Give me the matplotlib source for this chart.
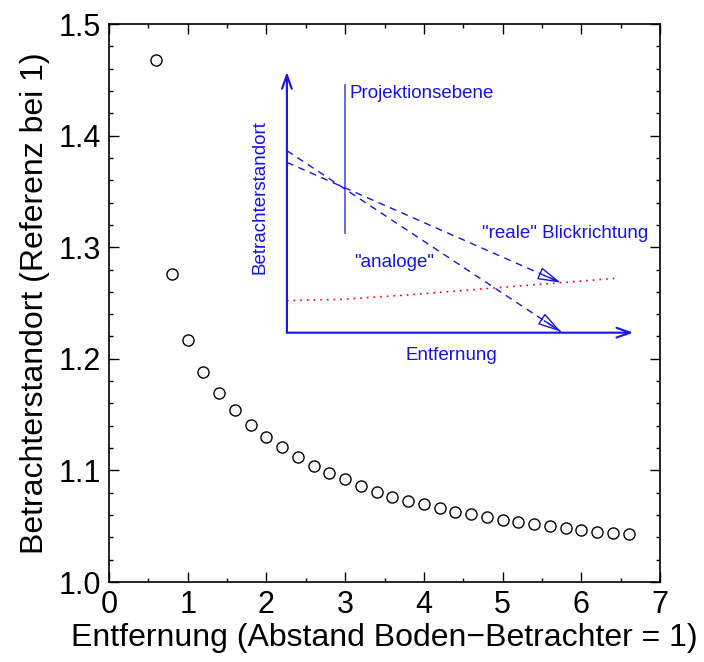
import numpy as np
import matplotlib
matplotlib.use('Agg')
import matplotlib.pyplot as plt
from matplotlib.ticker import MultipleLocator

plt.rcParams['font.family'] = ['Liberation Sans', 'DejaVu Sans']

# Messwerte: Entfernung und Betrachterstandort
entfernung = [0.6, 0.8, 1.0, 1.2, 1.4, 1.6, 1.8, 2.0, 2.2, 2.4, 2.6, 2.8, 3.0,
              3.2, 3.4, 3.6, 3.8, 4.0, 4.2, 4.4, 4.6, 4.8, 5.0, 5.2, 5.4, 5.6,
              5.8, 6.0, 6.2, 6.4, 6.6]
standort = [1.468, 1.276, 1.217, 1.188, 1.169, 1.154, 1.141, 1.130, 1.121,
            1.112, 1.104, 1.098, 1.092, 1.086, 1.081, 1.076, 1.073, 1.070,
            1.066, 1.063, 1.061, 1.058, 1.056, 1.054, 1.052, 1.050, 1.048,
            1.047, 1.045, 1.044, 1.043]

# Skizze (in Datenkoordinaten)
skizze_ursprung = (2.26, 1.2234)
skizze_y_ende = 1.457
skizze_x_ende = 6.66
ebene_x = 3.0
ebene_y = (1.3125, 1.445)
blick_analog = [(2.26, 1.3865), (5.74, 1.2243)]
blick_real = [(2.26, 1.376), (5.74, 1.2682)]
kurve_x = [2.26, 2.95, 3.79, 4.85, 5.74, 6.43]
kurve_y = [1.2521, 1.2533, 1.2572, 1.2632, 1.2682, 1.2721]

blau = '#1414e6'

fig = plt.figure(figsize=(7.04, 6.62), dpi=100)
ax = fig.add_axes([109 / 704, 1 - 582 / 662, 551 / 704, 558 / 662])

ax.plot(entfernung, standort, 'o', mfc='none', mec='black', ms=8, mew=1)

# Achsen der Skizze
for ziel in [(skizze_ursprung[0], skizze_y_ende), (skizze_x_ende, skizze_ursprung[1])]:
    ax.annotate('', xy=ziel, xytext=skizze_ursprung,
                arrowprops=dict(arrowstyle='->,head_length=0.7,head_width=0.25',
                                color=blau, lw=1.5, shrinkA=0, shrinkB=0,
                                mutation_scale=14))

# Projektionsebene
ax.plot([ebene_x, ebene_x], ebene_y, color='#5c5cf0', lw=1.3)

# Blickrichtungen: gestrichelte Linie + durchgezogene Pfeilspitze
for (x0, y0), (x1, y1) in [blick_analog, blick_real]:
    ax.plot([x0, x1], [y0, y1], color=blau, lw=1, ls=(0, (5, 4)))
    xa = x1 - 0.06 * (x1 - x0)
    ya = y1 - 0.06 * (y1 - y0)
    ax.annotate('', xy=(x1, y1), xytext=(xa, ya),
                arrowprops=dict(arrowstyle='-|>,head_length=0.8,head_width=0.22',
                                color=blau, lw=1, fill=False,
                                shrinkA=0, shrinkB=0, mutation_scale=18))

ax.plot(kurve_x, kurve_y, color='red', ls=(0, (1, 3)), lw=1.2)

fs_skizze = 13.5
ax.text(3.05, 1.438, 'Projektionsebene', color=blau, fontsize=fs_skizze,
        va='center', ha='left')
ax.text(1.92, 1.345, 'Betrachterstandort', color=blau, fontsize=fs_skizze,
        rotation=90, va='center', ha='center')
ax.text(4.74, 1.3127, '"reale" Blickrichtung', color=blau, fontsize=fs_skizze,
        va='center', ha='left')
ax.text(3.11, 1.286, '"analoge"', color=blau, fontsize=fs_skizze,
        va='center', ha='left')
ax.text(4.35, 1.2034, 'Entfernung', color=blau, fontsize=fs_skizze,
        va='center', ha='center')

ax.set_xlim(0, 7)
ax.set_ylim(1.0, 1.5)
ax.xaxis.set_major_locator(MultipleLocator(1))
ax.xaxis.set_minor_locator(MultipleLocator(0.5))
ax.yaxis.set_minor_locator(MultipleLocator(0.02))
ax.set_yticks([1.0, 1.1, 1.2, 1.3, 1.4, 1.5])
ax.set_yticklabels(['1.0', '1.1', '1.2', '1.3', '1.4', '1.5'])
ax.tick_params(which='both', direction='in', top=True, right=True,
               labelsize=22, width=1)
ax.tick_params(which='major', length=7, pad=6)
ax.tick_params(which='minor', length=3)
for s in ax.spines.values():
    s.set_linewidth(1.2)

ax.set_xlabel('Entfernung (Abstand Boden\u2212Betrachter = 1)', fontsize=23,
              labelpad=2)
ax.set_ylabel('Betrachterstandort (Referenz bei 1)', fontsize=23, labelpad=6)

fig.savefig('out.png', dpi=100)
